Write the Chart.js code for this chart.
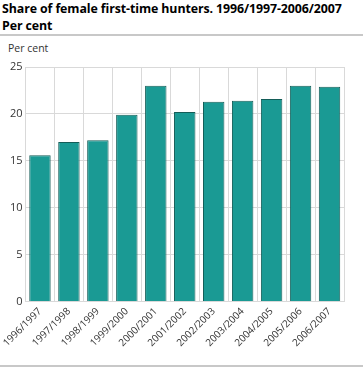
<!DOCTYPE html>
<html>
<head>
<meta charset="utf-8">
<script src="https://cdn.jsdelivr.net/npm/chart.js@4.4.0/dist/chart.umd.min.js"></script>
<style>
  body { margin: 0; background: #fff; }
  #wrap { position: relative; width: 363px; height: 370px; overflow: hidden; }
  #title { position: absolute; left: 2px; top: 0px; font: bold 12.4px "Open Sans", sans-serif; line-height: 17px; color: #000; white-space: nowrap; letter-spacing: -0.1px; }
  .rule { position: absolute; left: 0; width: 363px; height: 2px; background: #c8c8c8; }
  #unit { position: absolute; left: 8px; top: 41px; font: 10.5px "Open Sans", sans-serif; color: #333; }
  #c { position: absolute; left: 0; top: 0; }
</style>
</head>
<body>
<div id="wrap">
  <div id="title">Share of female first-time hunters. 1996/1997-2006/2007<br>Per cent</div>
  <div class="rule" style="top:34px"></div>
  <div id="unit">Per cent</div>
  <canvas id="c" width="363" height="370"></canvas>
  <div class="rule" style="top:365px"></div>
</div>
<script>
const categories = ["1996/1997", "1997/1998", "1998/1999", "1999/2000", "2000/2001", "2001/2002",
  "2002/2003", "2003/2004", "2004/2005", "2005/2006", "2006/2007"];
const shares = [15.6, 17.0, 17.2, 19.9, 23.0, 20.2, 21.3, 21.4, 21.6, 23.0, 22.9];
const yTicks = [0, 5, 10, 15, 20, 25];

var ctx = document.getElementById('c').getContext('2d');
window.chart = new Chart(ctx, {
  type: 'bar',
  data: {
    labels: categories,
    datasets: [{
      data: shares,
      backgroundColor: '#1a9a94',
      borderColor: '#145d58',
      borderWidth: 1,
      categoryPercentage: 0.74,
      barPercentage: 1
    }]
  },
  options: {
    responsive: false,
    animation: false,
    layout: { padding: { left: 4, right: 19, top: 67, bottom: 17 } },
    plugins: { legend: { display: false }, tooltip: { enabled: false } },
    scales: {
      x: {
        grid: { color: '#d9d9d9', offset: true, drawTicks: false },
        border: { color: '#d9d9d9' },
        ticks: {
          font: { family: 'Open Sans', size: 10 },
          color: '#333',
          maxRotation: 45, minRotation: 45,
          padding: 4
        }
      },
      y: {
        min: 0, max: 25,
        afterBuildTicks: function(axis) { axis.ticks = yTicks.map(v => ({ value: v })); },
        grid: { color: '#d9d9d9', drawTicks: false },
        border: { display: false },
        ticks: {
          font: { family: 'Open Sans', size: 11 },
          color: '#333',
          padding: 3
        }
      }
    }
  }
});
</script>
</body>
</html>
